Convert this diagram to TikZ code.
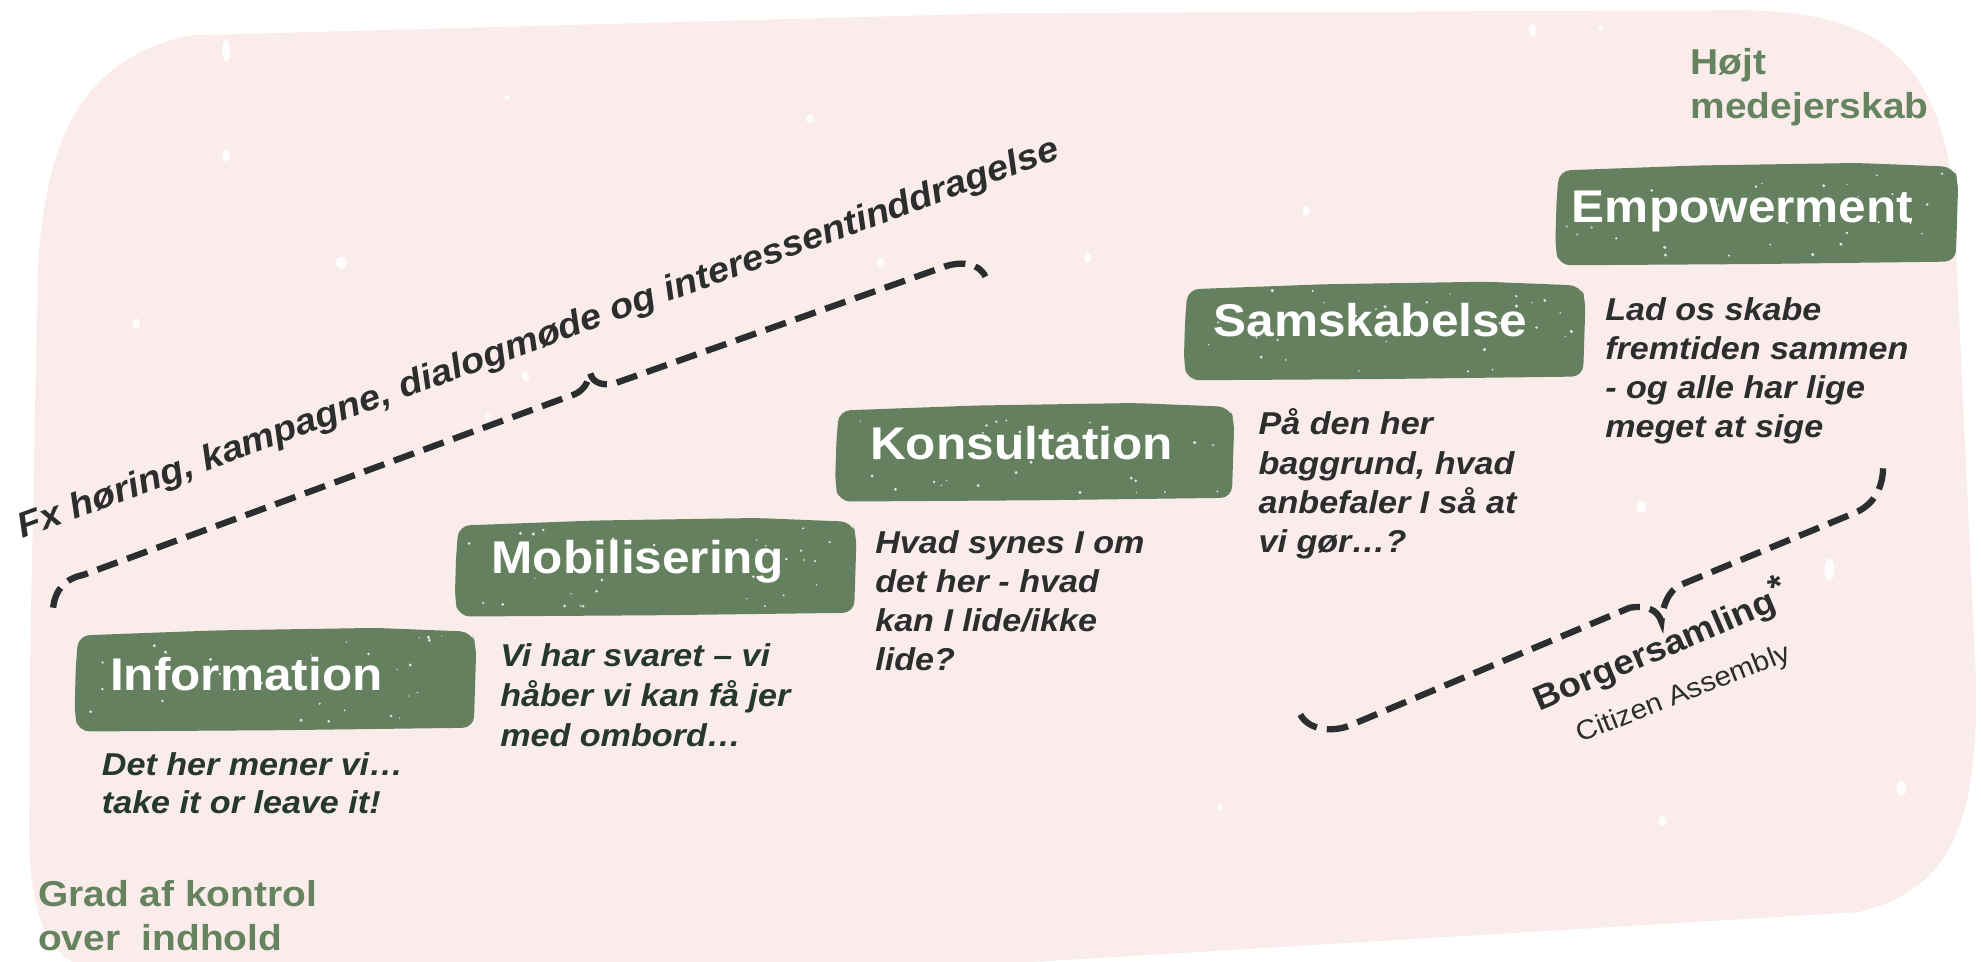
\documentclass[tikz,border=0pt]{standalone}
\usepackage{fontspec}
\newfontfamily\lsans{Liberation Sans}[FakeStretch=1.08]
\definecolor{bgpink}{HTML}{F9ECEB}
\definecolor{boxgreen}{HTML}{65805F}
\definecolor{labgreen}{HTML}{66835F}
\definecolor{darktext}{HTML}{2B2E2D}
\definecolor{darkgreentext}{HTML}{26382A}
\definecolor{bracecol}{HTML}{2B2E2E}
\tikzset{
  titletext/.style={anchor=base west, inner sep=0pt, text=white, font=\lsans\bfseries\fontsize{36.3}{40}\selectfont},
  desctext/.style={anchor=base west, inner sep=0pt, text=darktext, font=\lsans\bfseries\itshape\fontsize{25}{31}\selectfont},
  labtext/.style={anchor=base west, inner sep=0pt, text=labgreen, font=\lsans\bfseries\fontsize{28.5}{35}\selectfont},
  bracepath/.style={draw=bracecol, line width=5pt, dash pattern=on 17pt off 8pt},
  speckle/.style={fill=white, opacity=0.85},
}
\newcommand\lines[1]{\begin{tabular}[t]{@{}l@{}}#1\end{tabular}}
\newcommand\roughbox[4]{%
  \fill[boxgreen, rounded corners=9pt] ({#1+3},{#2+6}) -- ({#1+0.35*(#3-#1)},{#2+2}) -- ({#1+0.75*(#3-#1)},{#2}) -- ({#3-4},{#2+3}) -- ({#3},{#2+14}) -- ({#3-2},{#4-3}) -- ({#1+0.5*(#3-#1)},{#4-1}) -- ({#1+3},{#4}) -- ({#1},{#4-14}) -- ({#1+1},{#2+30}) -- cycle;%
  \foreach \k in {1,...,30}{%
    \pgfmathsetmacro\sx{#1+8+rnd*(#3-#1-16)}%
    \pgfmathsetmacro\sy{#2+6+rnd*(#4-#2-12)}%
    \pgfmathsetmacro\sr{0.5+rnd*0.9}%
    \fill[white, opacity=0.8] (\sx,\sy) circle[radius=\sr pt];%
  }%
}
\begin{document}
\begin{tikzpicture}[x=1pt, y=-1pt]
\pgfmathsetseed{12}
\useasboundingbox (0,0) rectangle (1568,761);
\fill[white] (0,0) rectangle (1568,761);
% background blob
\fill[bgpink] (30,211) .. controls (36,120) and (58,48) .. (150,28) -- (791,10.5) -- (1380,8) .. controls (1480,10) and (1532,40) .. (1546,150) -- (1564,538) .. controls (1566,650) and (1545,705) .. (1470,722) -- (791,763) -- (60,763) .. controls (35,750) and (24,720) .. (23,660) -- (24,512) -- cycle;
% background speckles
\foreach \px/\py/\rx/\ry in {179/40/3/9, 179/123/3/5, 108/256/3/4, 270/208/4/5, 641/94/3/4, 401/77/2/2, 697/208/3/4, 416/298/3/4, 386/330/2/3, 1213/24/3/5, 1267/22/2/2, 1034/167/3/4, 861/204/3/4, 1299/401/4/5, 1448/451/4/9, 1505/624/4/6, 1316/650/3/4, 966/639/2/3}
  \fill[speckle] (\px,\py) ellipse[x radius=\rx pt, y radius=\ry pt];
% boxes
\roughbox{59}{497}{377}{579}
\roughbox{360}{410}{678}{488}
\roughbox{661}{319}{977}{397}
\roughbox{937}{223}{1255}{301}
\roughbox{1231}{129}{1550}{210}
% titles
\node[titletext] (info) at (87,546.7) {Information};
\node[titletext] (mobil) at (389,454.3) {Mobilisering};
\node[titletext] (konsul) at (688.6,363.6) {Konsultation};
\node[titletext] (samsk) at (960.4,266.5) {Samskabelse};
\node[titletext] (empow) at (1244,176.2) {Empowerment};
% descriptions
\node[desctext, text=darkgreentext, font=\lsans\bfseries\itshape\fontsize{25}{30.3}\selectfont] (infodesc) at (80.5,613.5) {\lines{Det her mener vi…\\take it or leave it!}};
\node[desctext, text=darkgreentext, font=\lsans\bfseries\itshape\fontsize{25}{31.6}\selectfont] (mobildesc) at (395.8,527.7) {\lines{Vi har svaret – vi\\håber vi kan få jer\\med ombord…}};
\node[desctext] (konsuldesc) at (692.6,438) {\lines{Hvad synes I om\\det her - hvad\\kan I lide/ikke\\lide?}};
\node[desctext] (samskdesc) at (996,344.3) {\lines{På den her\\baggrund, hvad\\anbefaler I så at\\vi gør…?}};
\node[desctext] (empowdesc) at (1270.4,253.3) {\lines{Lad os skabe\\fremtiden sammen\\- og alle har lige\\meget at sige}};
% green labels
\node[labtext] (hojt) at (1338,59) {\lines{Højt\\medejerskab}};
\node[labtext] (grad) at (30,717.6) {\lines{Grad af kontrol\\over\ \ indhold}};
% rotated texts
\node[anchor=base west, inner sep=0pt, rotate=20.1, text=darktext, font=\lsans\bfseries\itshape\fontsize{28}{32}\selectfont] (fx) at (17.8,426) {Fx høring, kampagne, dialogmøde og interessentinddragelse};
\node[anchor=base west, inner sep=0pt, rotate=23, text=darktext, font=\lsans\bfseries\fontsize{27}{30}\selectfont] (borger) at (1218,563) {Borgersamling\raisebox{0.3em}{*}};
\node[anchor=base west, inner sep=0pt, rotate=21.5, text=darktext, font=\lsans\fontsize{21.7}{25}\selectfont] (citizen) at (1251,588) {Citizen Assembly};
% braces
\draw[bracepath] (42,481) .. controls (44,466) and (52,458) .. (66,455) -- (455,312) .. controls (462,309) and (466,302) .. (467,295) .. controls (469,302) and (474,305) .. (485,304) -- (745,212) .. controls (760,206) and (775,208) .. (780,219);
\draw[bracepath] (1490.5,370.7) .. controls (1490,388) and (1482,400) .. (1468,406) -- (1330,463) .. controls (1320,468) and (1316,480) .. (1315,492) .. controls (1312,482) and (1302,479) .. (1290,481) -- (1069,574) .. controls (1055,580) and (1035,578) .. (1029,565);
\end{tikzpicture}
\end{document}
